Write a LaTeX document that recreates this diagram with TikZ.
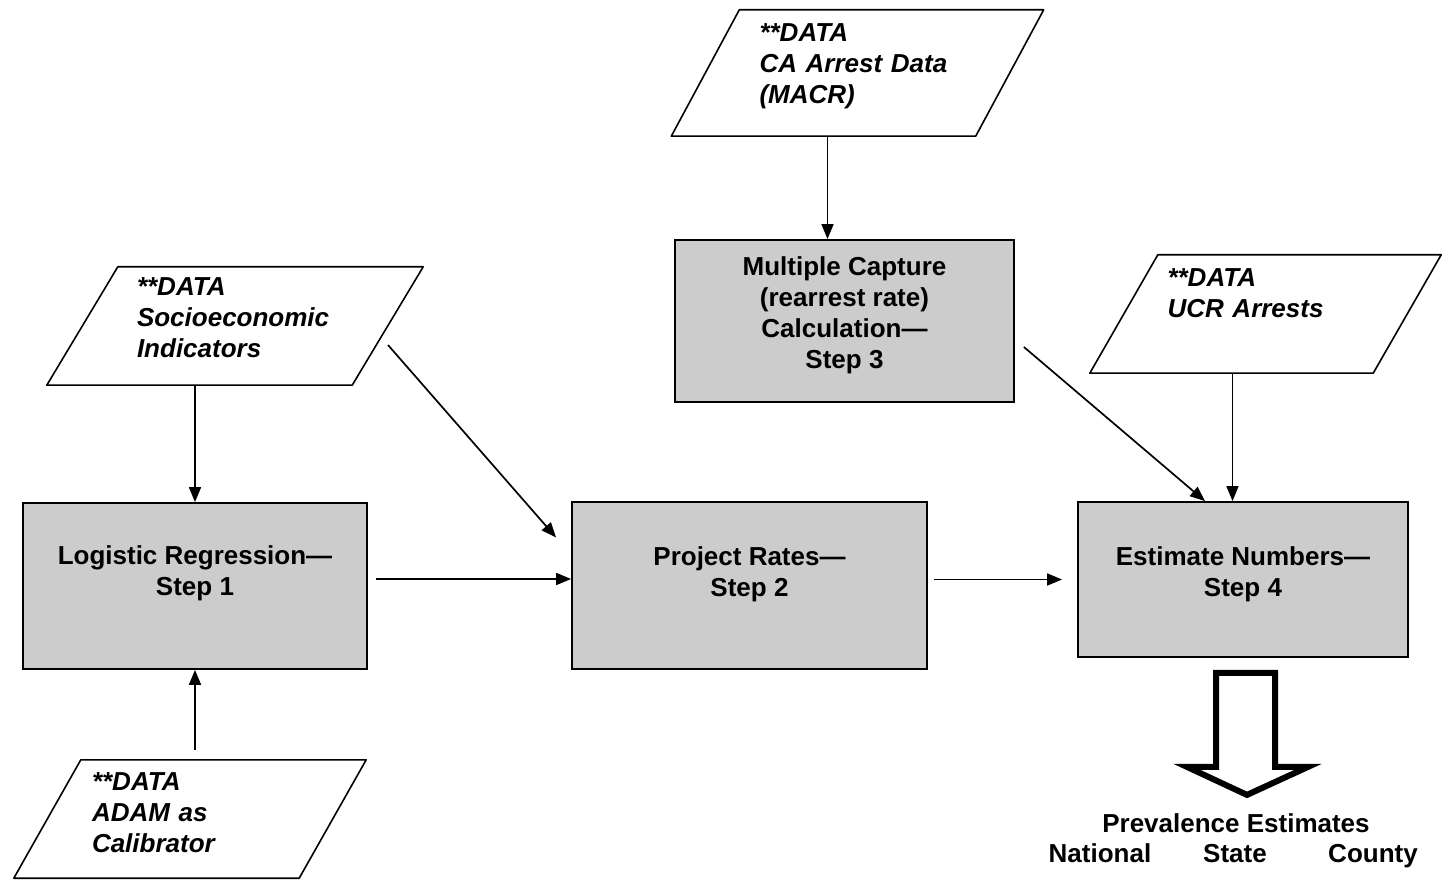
\documentclass[tikz,border=0pt]{standalone}
\usepackage{fontspec}
\setmainfont{Liberation Sans}
\usetikzlibrary{arrows.meta}
\begin{document}
\begin{tikzpicture}[x=1pt,y=-1pt,
  stepbox/.style={draw,line width=1.8pt,fill=black!20,align=center,inner sep=0pt,text depth=16pt,font={\fontsize{26}{31}\selectfont\bfseries}},
  data/.style={align=left,text width=196pt,inner sep=0pt,text depth=76pt,font={\fontsize{26}{31}\selectfont\bfseries\itshape}},
  datashape/.style={draw,line width=1.6pt,line join=round},
  arr/.style={-{Triangle[length=15pt,width=12pt]},line width=1.7pt},
  outtext/.style={anchor=base,font={\fontsize{26}{31}\selectfont\bfseries}}]
\useasboundingbox (0,0) rectangle (1444,882);
% data inputs
\node[data,minimum width=304pt,minimum height=126pt,text depth=81pt] (macr) at (857.5,73) {**DATA\\CA Arrest Data\\(MACR)};
\node[data,minimum width=305pt,minimum height=118pt,text depth=78pt] (socio) at (235,326) {**DATA\\Socioeconomic\\Indicators};
\node[data,minimum width=283pt,minimum height=118pt,text depth=73pt] (ucr) at (1265.5,314) {**DATA\\UCR Arrests};
\node[data,minimum width=285pt,minimum height=118pt,text depth=75pt] (adam) at (190,819) {**DATA\\ADAM as\\Calibrator};
\foreach \n/\s in {macr/68,socio/71,ucr/68,adam/67}
  \draw[datashape] ([xshift=-\s/2]\n.south west) -- ([xshift=\s/2]\n.north west) -- ([xshift=\s/2]\n.north east) -- ([xshift=-\s/2]\n.south east) -- cycle;
% steps
\node[stepbox,minimum width=344pt,minimum height=166pt,text depth=30pt] (s1) at (195,586) {Logistic Regression---\\Step 1};
\node[stepbox,minimum width=355pt,minimum height=167pt,text depth=28pt] (s2) at (749.5,585.5) {Project Rates---\\Step 2};
\node[stepbox,minimum width=339pt,minimum height=162pt] (s3) at (844.5,321) {Multiple Capture\\(rearrest rate)\\Calculation---\\Step 3};
\node[stepbox,minimum width=330pt,minimum height=155pt] (s4) at (1243,579.5) {Estimate Numbers---\\Step 4};
% connectors
\draw[arr] ([xshift=-30pt]macr.south) -- ([xshift=-30pt]macr.south |- s3.north);
\draw[arr] (s1.north |- socio.south) -- (s1.north);
\draw[arr,shorten <=10pt] (s1.south |- adam.north) -- (s1.south);
\draw[arr] ([shift={(153,19)}]socio.center) -- ([shift={(-15,-48)}]s2.west);
\draw[arr] ([shift={(9,26)}]s3.east) -- ([shift={(-38,0)}]s4.north);
\draw[arr] ([xshift=-33pt]ucr.south) -- ([xshift=-33pt]ucr.south |- s4.north);
\draw[arr,shorten <=8pt] ([yshift=7pt]s1.east) -- ([yshift=7pt]s1.east -| s2.west);
\draw[arr,shorten <=6pt,shorten >=15pt] ([yshift=6pt]s2.east) -- ([yshift=6pt]s2.east -| s4.west);
% output
\draw[line width=6pt] ([shift={(-27,15)}]s4.south) -- ++(59,0) -- ++(0,94) -- ++(33,0) -- ++(-61,28) -- ++(-60,-28) -- ++(29,0) -- cycle;
\node[outtext] (prev) at (1236,832) {Prevalence Estimates};
\node[outtext] (nat) at (1100,862) {National};
\node[outtext] (state) at (1235,862) {State};
\node[outtext] (cty) at (1373,862) {County};
\end{tikzpicture}
\end{document}
